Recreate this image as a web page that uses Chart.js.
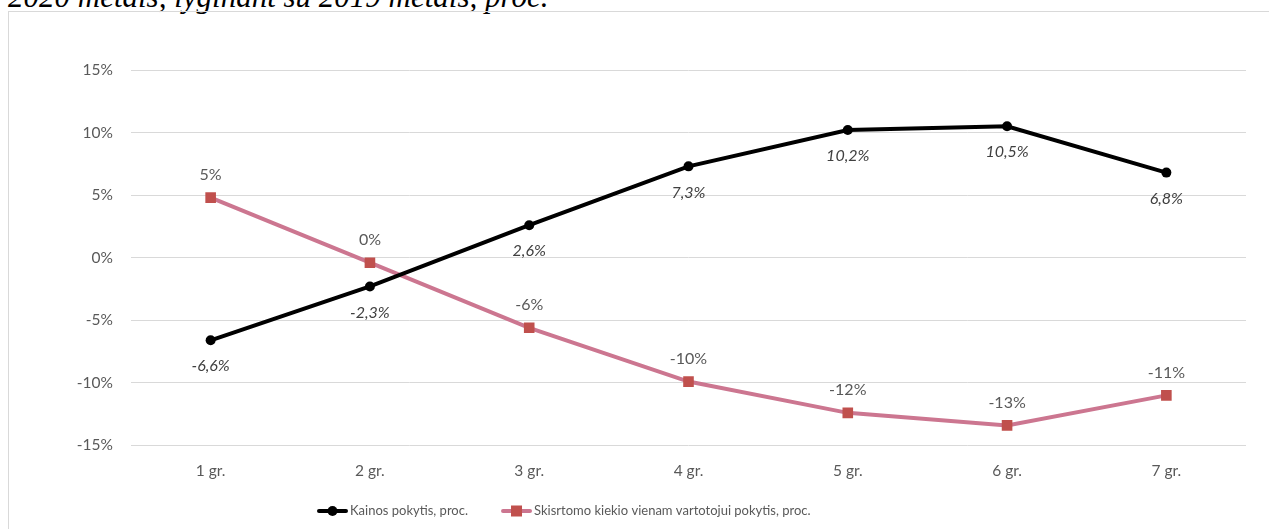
<!DOCTYPE html>
<html>
<head>
<meta charset="utf-8">
<script src="https://cdn.jsdelivr.net/npm/chart.js@4.4.0/dist/chart.umd.min.js"></script>
<style>
	html, body { margin: 0; padding: 0; background: #fff; overflow: hidden; }
	body { width: 1269px; height: 529px; position: relative; }
	#title {
		position: absolute; left: 8px; top: -19px; white-space: nowrap;
		font-family: "Liberation Serif", "Times New Roman", serif; font-style: italic;
		font-size: 31px; line-height: 31px; color: #000;
	}
	#frame {
		position: absolute; left: 8px; top: 11px; width: 1400px; height: 700px;
		border: 1px solid #d9d9d9; box-sizing: border-box;
	}
	#wrap { position: absolute; left: 0; top: 0; width: 1269px; height: 529px; }
</style>
</head>
<body>
<div id="title">2020 metais, lyginant su 2019 metais, proc.</div>
<div id="frame"></div>
<div id="wrap"><canvas id="lineChart"></canvas></div>
<script>
const categories = ['1 gr.', '2 gr.', '3 gr.', '4 gr.', '5 gr.', '6 gr.', '7 gr.'];
const priceChange = [-6.6, -2.3, 2.6, 7.3, 10.2, 10.5, 6.8];
const amountChange = [4.8, -0.4, -5.6, -9.9, -12.4, -13.4, -11.0];
const seriesNames = ['Kainos pokytis, proc.', 'Skisrtomo kiekio vienam vartotojui pokytis, proc.'];
const yTicks = [-15, -10, -5, 0, 5, 10, 15];

const fontFamily = 'Lato, "Open Sans", sans-serif';
const pinkLine = '#cc7690';
const pinkMarker = '#c0504d';

// value labels next to each point
const pointLabels = {
	id: 'pointLabels',
	afterDatasetsDraw(chart) {
		const ctx = chart.ctx;
		ctx.save();
		ctx.textAlign = 'center';
		ctx.textBaseline = 'middle';
		chart.data.datasets.forEach(function(ds, i) {
			const meta = chart.getDatasetMeta(i);
			meta.data.forEach(function(pt, j) {
				const v = ds.data[j];
				let txt, dy;
				if (i === 0) {
					txt = v.toFixed(1).replace('.', ',') + '%';
					ctx.font = 'italic 16px ' + fontFamily;
					ctx.fillStyle = '#404040';
					dy = 26;
				} else {
					txt = Math.round(v) + '%';
					ctx.font = '16px ' + fontFamily;
					ctx.fillStyle = '#595959';
					dy = -23;
				}
				ctx.fillText(txt, pt.x, pt.y + dy);
			});
		});
		ctx.restore();
	}
};

// legend drawn by hand: line + marker, then the series name
const lineLegend = {
	id: 'lineLegend',
	afterDraw(chart) {
		const ctx = chart.ctx;
		let x = 317;
		const y = 511;
		ctx.save();
		ctx.font = '13px ' + fontFamily;
		ctx.textBaseline = 'middle';
		ctx.textAlign = 'left';
		chart.data.datasets.forEach(function(ds, i) {
			ctx.strokeStyle = ds.borderColor;
			ctx.lineWidth = 4;
			ctx.lineCap = 'round';
			ctx.beginPath();
			ctx.moveTo(x + 2, y);
			ctx.lineTo(x + 29, y);
			ctx.stroke();
			ctx.fillStyle = ds.pointBackgroundColor || ds.backgroundColor;
			if (ds.pointStyle === 'rect') {
				ctx.fillRect(x + 10, y - 5.5, 11, 11);
			} else {
				ctx.beginPath();
				ctx.arc(x + 15.5, y, 5, 0, Math.PI * 2);
				ctx.fill();
			}
			ctx.fillStyle = '#595959';
			ctx.fillText(ds.label, x + 33, y);
			x += 33 + ctx.measureText(ds.label).width + 33;
		});
		ctx.restore();
	}
};

const ctx = document.getElementById('lineChart').getContext('2d');
const chart = new Chart(ctx, {
	type: 'line',
	data: {
		labels: categories,
		datasets: [{
			label: seriesNames[0],
			data: priceChange,
			borderColor: '#000',
			backgroundColor: '#000',
			borderWidth: 4,
			pointStyle: 'circle',
			pointRadius: 5,
			pointBorderWidth: 0,
			tension: 0
		}, {
			label: seriesNames[1],
			data: amountChange,
			borderColor: pinkLine,
			backgroundColor: pinkMarker,
			pointBackgroundColor: pinkMarker,
			pointBorderColor: pinkMarker,
			borderWidth: 4,
			pointStyle: 'rect',
			pointRadius: 7.5,
			pointBorderWidth: 0,
			tension: 0
		}]
	},
	options: {
		responsive: true,
		maintainAspectRatio: false,
		animation: false,
		layout: { padding: { left: 0, right: 23, top: 70, bottom: 33 } },
		scales: {
			x: {
				offset: true,
				grid: { display: false, drawTicks: false },
				border: { display: false },
				ticks: { color: '#595959', font: { family: fontFamily, size: 15.5 }, padding: 16 }
			},
			y: {
				min: -15,
				max: 15,
				afterFit: function(scale) { scale.width = 131; },
				afterBuildTicks: function(scale) { scale.ticks = yTicks.map(function(v) { return { value: v }; }); },
				grid: { color: '#d9d9d9', lineWidth: 1, drawTicks: false },
				border: { display: false },
				ticks: {
					color: '#595959',
					font: { family: fontFamily, size: 15.5 },
					padding: 18,
					callback: function(v) { return v + '%'; }
				}
			}
		},
		plugins: {
			legend: { display: false },
			tooltip: { enabled: false }
		}
	},
	plugins: [pointLabels, lineLegend]
});
</script>
</body>
</html>
